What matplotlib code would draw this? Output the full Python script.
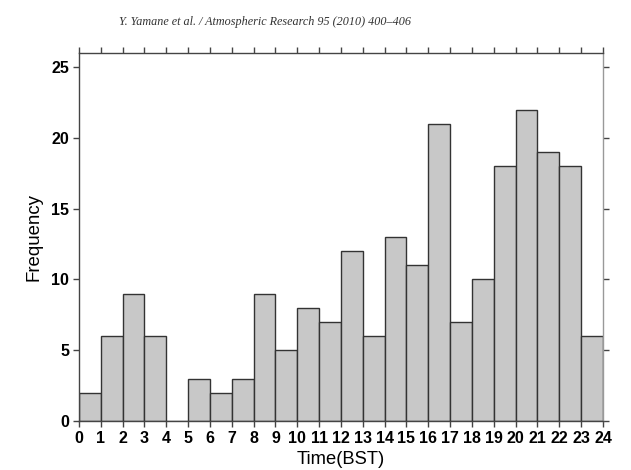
import numpy as np
import matplotlib.pyplot as plt

# hourly counts, bins 0-1 ... 23-24
hours = np.arange(24)
counts = [2, 6, 9, 6, 0, 3, 2, 3, 9, 5, 8, 7, 12, 6, 13, 11, 21, 7, 10, 18, 22, 19, 18, 6]
xticks = list(range(25))
yticks = [0, 5, 10, 15, 20, 25]

plt.rcParams['font.family'] = ['Liberation Sans', 'DejaVu Sans']

fig = plt.figure(figsize=(6.31, 4.7), dpi=100)
ax = fig.add_axes([0.1252, 0.1043, 0.8304, 0.7829])

ax.bar(hours, counts, width=1.0, align='edge', color='#c8c8c8',
       edgecolor='#333333', linewidth=1.0)

ax.set_xlim(0, 24)
ax.set_ylim(0, 26)
ax.set_xticks(xticks)
ax.set_yticks(yticks)
ax.tick_params(axis='both', direction='out', length=4, width=1.0, color='#444444',
               labelsize=11.5, pad=3, top=True, right=True)
for lbl in ax.get_xticklabels() + ax.get_yticklabels():
    lbl.set_fontweight('bold')
for side, s in ax.spines.items():
    s.set_color('#444444')
    s.set_linewidth(1.0)
ax.spines['right'].set_color('#999999')

ax.set_xlabel('Time(BST)', fontsize=13.2, labelpad=4)
ax.set_ylabel('Frequency', fontsize=13.4, labelpad=6)

fig.text(0.42, 0.953, 'Y. Yamane et al. / Atmospheric Research 95 (2010) 400\u2013406',
         ha='center', va='center', fontsize=8.7, style='italic',
         family=['Liberation Serif', 'DejaVu Serif'], color='#333333')

fig.savefig('out.png', dpi=100)
